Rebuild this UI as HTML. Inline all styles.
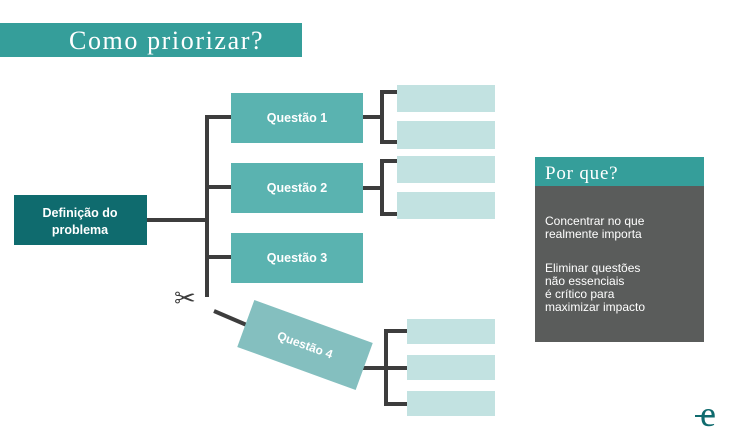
<!DOCTYPE html>
<html><head><meta charset="utf-8"><style>
body{margin:0;background:#fff;}
svg{display:block;font-family:"Liberation Sans",sans-serif;}
</style></head><body>
<svg width="740" height="439" viewBox="0 0 740 439" xmlns="http://www.w3.org/2000/svg">
<rect x="0" y="23" width="302" height="34" fill="#359e9a"/>
<text x="69" y="49" font-family="Liberation Serif, serif" font-size="26" letter-spacing="1.6" fill="#fff">Como priorizar?</text>
<g stroke="#3d3d3d" stroke-width="4" fill="none">
<line x1="147" y1="220" x2="209" y2="220"/>
<polyline points="231,117 207,117 207,297"/>
<line x1="207" y1="187" x2="231" y2="187"/>
<line x1="207" y1="257" x2="231" y2="257"/>
<line x1="214" y1="311" x2="249" y2="326"/>
<line x1="363" y1="117" x2="382" y2="117"/>
<polyline points="397,92 382,92 382,142 397,142"/>
<line x1="363" y1="188" x2="382" y2="188"/>
<polyline points="397,161 382,161 382,214 397,214"/>
<line x1="358" y1="368" x2="407" y2="368"/>
<polyline points="407,331 386,331 386,404 407,404"/>
</g>
<rect x="14" y="195" width="133" height="50" fill="#0f6b6e"/>
<text x="80" y="217" font-size="12.5" font-weight="bold" fill="#fff" text-anchor="middle">Definição do</text>
<text x="80" y="234" font-size="12.5" font-weight="bold" fill="#fff" text-anchor="middle">problema</text>
<g fill="#5ab3b0">
<rect x="231" y="93" width="132" height="50"/>
<rect x="231" y="163" width="132" height="50"/>
<rect x="231" y="233" width="132" height="50"/>
</g>
<g font-size="12.5" font-weight="bold" fill="#fff" text-anchor="middle">
<text x="297" y="122">Questão 1</text>
<text x="297" y="192">Questão 2</text>
<text x="297" y="262">Questão 3</text>
</g>
<g transform="translate(305,345) rotate(20)">
<rect x="-63" y="-25" width="126" height="50" fill="#84bfbf"/>
<text x="0" y="4" font-size="12" font-weight="bold" fill="#fff" text-anchor="middle">Questão 4</text>
</g>
<g fill="#c2e2e1">
<rect x="397" y="85" width="98" height="27"/>
<rect x="397" y="121" width="98" height="28"/>
<rect x="397" y="156" width="98" height="27"/>
<rect x="397" y="192" width="98" height="27"/>
<rect x="407" y="319" width="88" height="25"/>
<rect x="407" y="355" width="88" height="25"/>
<rect x="407" y="391" width="88" height="25"/>
</g>
<text x="174" y="307" font-size="26" font-family="DejaVu Sans, sans-serif" fill="#3d3d3d">✂</text>
<rect x="535" y="157" width="169" height="29" fill="#359e9a"/>
<rect x="535" y="186" width="169" height="156" fill="#5a5c5b"/>
<text x="545" y="179" font-family="Liberation Serif, serif" font-size="19" letter-spacing="0.8" fill="#fff">Por que?</text>
<g font-size="12" fill="#fff">
<text x="545" y="225">Concentrar no que</text>
<text x="545" y="238">realmente importa</text>
<text x="545" y="272">Eliminar questões</text>
<text x="545" y="285">não essenciais</text>
<text x="545" y="298">é crítico para</text>
<text x="545" y="311">maximizar impacto</text>
</g>
<text x="700" y="426" font-family="Liberation Serif, serif" font-size="36" fill="#0f6b6e">e</text>
<line x1="695" y1="416" x2="712" y2="416" stroke="#0f6b6e" stroke-width="2"/>
</svg>
</body></html>
